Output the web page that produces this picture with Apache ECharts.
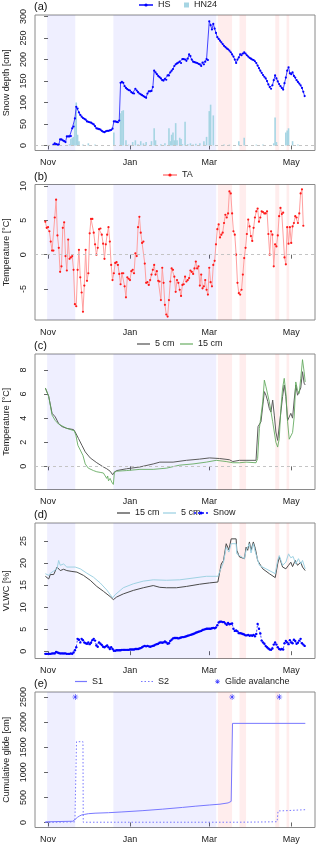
<!DOCTYPE html>
<html>
<head>
<meta charset="utf-8">
<script src="https://cdn.jsdelivr.net/npm/echarts@6/dist/echarts.min.js"></script>
<title></title>
<style>
  body { margin: 0; background: #fff; }
</style>
</head>
<body>
<div id="main" style="width: 320px;height:847px;"></div>
<script type="text/javascript">
// days counted from 1 Nov
var monthTicks = [0, 61, 120, 181];
var monthLabels = ['Nov', 'Jan', 'Mar', 'May'];
var winterBands = [[-0.7, 20.3], [48.6, 125.2]];
var springBands = [[126.4, 137], [142.5, 147.4], [169.1, 172.1], [177.5, 179.5]];

// (a) snow depth, daily from day 4
var hsStartDay = 4;
var hsValues = [2,5,3,2,2,14,14,12,10,8,
  21,21,21,22,40,44,63,90,86,77,
  71,67,64,62,60,56,55,54,53,51,
  49,45,40,39,38,37,34,32,31,33,
  34,34,35,36,39,56,56,55,54,58,
  146,148,146,138,134,131,129,128,124,122,
  121,132,128,124,121,119,117,115,113,111,
  121,126,126,127,136,174,170,166,162,159,
  156,152,151,155,153,163,163,170,174,178,
  185,189,191,193,195,192,201,201,200,197,
  202,212,208,200,195,194,193,192,190,189,
  185,193,189,195,201,199,289,280,270,283,
  272,262,252,248,244,240,236,232,229,226,
  224,221,217,212,207,200,192,200,205,212,
  210,214,217,214,210,207,204,202,200,199,
  196,192,186,180,174,169,164,160,156,150,
  142,136,132,140,152,163,156,149,143,138,
  134,130,145,158,174,182,168,166,170,162,
  158,152,148,144,140,134,125,115];
var hn24 = [[16,3],[17,15],[18,18],[19,20],[20,62],[21,100],[22,25],[23,10],[26,2],[30,5],[35,2],
  [49,30],[54,75],[55,80],[56,82],[58,12],[60,2],[63,8],[65,12],[67,3],[69,10],[71,5],[73,8],
  [77,10],[79,40],[80,12],[84,3],[87,5],[90,40],[91,10],[92,25],[93,30],[94,12],[95,52],[96,12],
  [98,18],[99,15],[100,3],[102,55],[104,3],[106,5],[108,2],[110,4],[113,5],[116,10],[118,20],
  [120,80],[121,95],[123,70],[131,2],[135,2],[142,10],[146,18],[155,2],[160,2],[168,5],[169,65],
  [170,8],[177,30],[178,35],[179,40],[182,10],[186,2]];

// (b) air temperature, daily from day -2
var taStartDay = -2;
var taValues = [4.8,3.9,4.0,3.4,1.9,0.6,0.6,5.4,8.0,2.8,
  1.0,-2.5,-1.7,3.9,4.7,-0.2,-2.3,2.2,-0.6,-0.4,
  -0.2,-2.2,-7.2,-7.5,-2.2,0.7,-3.3,-5.5,-8.3,-4.5,
  0.7,-3.8,-2.7,3.1,5.2,5.2,3.2,1.5,0,1.0,
  3.7,3.8,2.9,1.6,-0.6,1.5,2.9,4.0,1.9,-1.5,
  -3.7,-2.7,-1.2,-1.1,-1.5,-2.8,-4.3,-2.7,-2.7,-4.6,
  -6.2,-3.3,-3.5,-3.7,-2.4,-2.2,-2.7,0.2,-0.2,4.0,
  5.5,3.2,1.7,1.9,-1.3,-4.1,-4.0,-4.4,-3.7,-2.9,
  -2.2,-1.5,-2.9,-2.4,-3.8,-3.9,-6.6,-1.9,-4.1,-7.3,
  -8.7,-9.0,-6.6,-3.9,-2.0,-2.2,-3.2,-5.4,-3.7,-4.1,
  -5.1,-6.0,-4.4,-4.3,-3.2,-3.9,-3.7,-3.4,-2.3,-2.5,
  -2.8,-2.0,-1.0,-2.0,-1.7,-4.5,-2.9,-4.9,-4.6,-3.7,
  -5.1,-5.8,-1.9,-4.0,-4.6,-1.5,-0.9,1.5,3.7,4.4,
  2.5,2.9,3.2,4.6,5.8,5.4,6.0,9.2,8.9,6.0,
  3.4,2.9,0,-4.1,-5.6,-5.8,-5.1,-2.9,-0.5,1.0,
  3.0,5.1,4.1,2.7,2.0,3.9,5.4,6.3,6.7,4.8,
  5.4,6.3,6.2,6.0,6.0,6.3,3.0,0,3.4,2.9,
  -1.7,1.5,1.2,2.8,5.6,6.8,5.9,6.1,-0.4,-1.4,
  4.0,1.6,4.0,1.7,4.1,4.6,5.6,5.4,4.6,6.0,
  8.9,9.5,4.2];

// (c) soil temperature [day, degC]
var soil5 = [[-2,6.5],[0.5,5.8],[1.7,5.7],[3,4.4],[4.2,4.25],[5.4,4.1],[7.9,3.55],[10.4,3.3],[14,3.15],
  [19,3.05],[20.2,2.85],[22.7,2.3],[25.2,1.75],[27.7,1.2],[31.4,0.7],[36.3,0.3],[41.2,-0.05],[43.7,-0.2],
  [46.2,-0.4],[47.4,-0.5],[48.1,-0.7],[49.1,-0.5],[51.1,-0.35],[58.5,-0.2],[68.4,-0.05],[78.3,0.2],
  [83.2,0.35],[93.1,0.35],[103,0.5],[112.8,0.6],[120.2,0.7],[127.7,0.65],[135,0.55],[137.5,0.4],
  [142.5,0.5],[147.4,0.5],[154.8,0.5],[156.3,3.3],[158.5,3.7],[161,6.2],[162.2,5.9],[163.5,5.4],
  [164.7,4.8],[165.9,4.5],[167.2,5.5],[168.4,4.25],[169.6,2.85],[170.9,2.15],[172.1,2.15],[173.3,4.5],
  [174.6,5.8],[175.8,6.75],[177,5.8],[178.3,3.8],[179.5,4.1],[180.7,4.4],[182,4.0],[183.2,5.5],
  [184.4,6.75],[185.7,5.9],[186.9,6.05],[188.1,6.5],[189.4,7.85],[190.6,6.9],[191.4,6.75]];
var soil15 = [[-2,6.5],[0.5,5.8],[3,4.25],[5.4,3.8],[7.9,3.5],[14,3.15],[19.5,2.95],[20.7,2.6],[22.2,1.75],
  [24,1.35],[26,0.9],[27.7,0.2],[30,-0.15],[33.8,-0.35],[35,-0.3],[36.3,-0.45],[37.5,-0.3],[38.8,-0.5],
  [40,-0.35],[41.2,-0.55],[42.5,-0.7],[43.7,-1.0],[44.4,-0.8],[45,-1.2],[45.7,-1.1],[46.2,-1.0],
  [47.4,-1.3],[48.6,-1.5],[49.4,-0.5],[51.1,-0.4],[58.5,-0.35],[68.4,-0.25],[78.3,-0.25],[88.1,-0.15],
  [98,0.1],[107.9,0.2],[117.8,0.35],[125.2,0.5],[132.6,0.4],[137.5,0.3],[142.5,0.3],[147.4,0.35],
  [154.8,0.3],[156,0.65],[157.3,3.15],[159.8,5.35],[161,7.15],[162.2,6.6],[164.7,5.35],[165.9,5.4],
  [167.2,3.7],[169.6,2.0],[170.9,1.6],[172.1,2.3],[173.3,4.8],[174.6,6.5],[175.8,7.3],[177,6.1],
  [178.3,3.7],[179.5,2.25],[180.7,2.15],[182,2.8],[183.2,4.1],[184.4,7.0],[185.7,6.3],[186.9,6.05],
  [188.1,7.3],[189.4,8.85],[190.6,7.85],[191.4,7.0]];

// (d) volumetric liquid water content [day, %]
var vlwc15 = [[-2,17.0],[0.5,16.4],[1.7,17.4],[4.2,17.4],[5.4,17.7],[6.7,19.1],[7.9,18.7],[9.1,18.3],
  [11.6,18.6],[14,18.3],[17.8,18.1],[21.5,17.95],[26.4,17.2],[31.4,16.1],[36.3,14.7],[41.2,13.6],
  [46.2,12.4],[48.6,11.7],[51.1,12.3],[56,13.0],[63.5,13.8],[70.9,14.4],[78.3,14.9],[83.2,14.5],
  [88.1,14.4],[95.6,14.4],[103,14.7],[112.8,15.2],[120.2,15.5],[126.4,15.7],[128.9,19.8],[130.6,20.6],
  [132.6,24.4],[134.6,23.0],[136.3,25.5],[140,25.5],[140.5,22.9],[142.5,21.4],[146.2,21.0],[147.4,23.6],
  [148.6,22.9],[149.9,24.8],[151.1,22.9],[152.8,24.8],[154.3,23.3],[156,20.6],[159.8,18.7],[164.7,17.6],
  [169.1,16.7],[170.9,19.8],[172.1,21.4],[174.6,19.1],[177,18.7],[179,19.5],[180.7,20.2],[182,19.2],
  [184,20.6],[185.7,19.5],[188.1,20.2],[189.4,19.1],[191.4,18.3]];
var vlwc5 = [[-2,17.6],[0.5,17.2],[1.7,17.7],[4.2,18.2],[6.7,18.7],[7.9,20.6],[9.1,19.5],[11.6,19.8],
  [14,19.1],[20.2,19.1],[24,18.7],[28.9,17.7],[33.8,16.8],[38.8,15.5],[43.7,13.9],[48.1,12.1],
  [49.9,12.8],[56,14.4],[63.5,15.3],[70.9,15.9],[78.3,16.2],[88.1,16.1],[98,16.2],[107.9,16.6],
  [117.8,17.0],[126.4,17.0],[128.1,18.3],[130.6,20.2],[132.6,23.6],[134.6,22.5],[136.3,24.4],[140,24.4],
  [140.5,22.1],[146.2,21.0],[147.4,22.9],[149.9,24.4],[151.1,22.3],[152.8,24.4],[154.3,22.5],
  [157.3,19.5],[162.2,18.7],[169.1,17.6],[170.9,20.6],[172.1,21.7],[174.6,19.5],[177,20.2],[179,22.1],
  [180.7,21.2],[182.4,21.5],[184.4,19.8],[186.4,21.0],[188.1,19.8],[189.4,20.6],[191.4,18.7]];
var snowStartDay = -2;
var snowVlwc = [-0.6,-0.6,-0.6,-0.6,-0.6,-0.5,-0.5,-0.5,-0.2,-0.3,
  -0.4,-0.5,-0.5,-0.5,-0.5,-0.5,-0.6,-0.6,-0.6,-0.5,
  -0.6,-0.3,0.2,0.9,2.8,2.6,2.0,2.8,2.5,2.0,
  1.8,1.7,2.0,1.6,1.9,2.5,2.8,2.4,1.3,1.0,
  2.0,1.7,1.4,1.0,0.9,1.1,1.3,0.9,0.5,0.9,
  0.5,0.1,0.1,0.2,0.2,0.2,0.2,0.3,0.3,0.3,
  0.3,0.3,0.3,0.4,0.4,0.4,0.4,0.5,0.5,0.5,
  0.6,0.7,0.9,1.1,1.2,1.1,1.2,1.1,1.0,1.1,
  1.2,1.3,1.5,1.6,1.7,1.9,2.0,1.9,2.0,2.2,
  2.0,1.7,1.8,2.3,2.6,2.9,3.0,3.0,3.0,2.9,
  3.0,3.1,3.2,3.2,3.3,3.4,3.5,3.6,3.7,3.8,
  3.9,4.0,4.2,4.3,4.4,4.5,4.6,4.8,4.9,5.0,
  5.1,5.1,5.1,5.1,5.2,5.3,5.2,5.4,5.9,6.5,
  6.7,6.7,6.6,6.6,6.3,6.0,6.4,6.1,6.2,6.3,
  5.1,4.6,4.7,4.5,4.1,4.1,4.0,3.9,3.8,3.6,
  3.6,3.7,3.5,3.6,3.5,3.7,3.4,3.9,6.2,5.1,
  4.0,2.4,2.0,1.7,1.2,0.9,0.6,0.4,0.3,0.6,
  1.5,2.0,1.5,0.9,0.5,0.4,0.5,0.4,1.8,2.3,
  2.0,1.6,2.5,2.0,1.8,2.6,2.3,1.7,1.9,2.4,
  2.8,1.8,1.5,1.2];

// (e) cumulative glide [day, cm]
var glideS1 = [[-2,13],[18.5,25],[19.5,30],[20.5,70],[22,105],[23.5,130],[25,150],[27,160],[30,175],
  [35,185],[45,195],[55,210],[70,235],[85,265],[100,300],[110,325],[120,348],[128,365],[134,390],
  [136.3,420],[137.3,1975],[191.5,1975]];
var glideS2 = [[-2,0],[20,13],[21,13],[21.2,1610],[26,1610],[26.2,5],[100,5],[140,5],[160,10],
  [170.5,15],[171.2,230],[177,235],[177.5,255],[191.5,255]];
var avalanches = [[20.3,2500],[137,2500],[172.1,2500]];

var yTicksA = [0, 50, 100, 150, 200, 250, 300];
var yTicksB = [-5, 0, 5, 10];
var yTicksC = [0, 2, 4, 6, 8];
var yTicksD = [0, 5, 10, 15, 20, 25];
var yTicksE = [0, 500, 1000, 1500, 2000, 2500];

function daily(start, vals) {
  return vals.map(function (v, i) { return [start + i, v]; });
}

var tops = [15, 184.5, 354, 523, 692];
var H = 135.5;
var yRanges = [[-11.7, 303.7], [-9.5, 10.2], [-1.92, 9.32], [-1.66, 29.1], [-100, 2600]];
var yTicks = [yTicksA, yTicksB, yTicksC, yTicksD, yTicksE];
var yNames = ['Snow depth [cm]', 'Temperature [°C]', 'Temperature [°C]', 'VLWC [%]', 'Cumulative glide [cm]'];
var font = 'Liberation Sans';

function bands(i) {
  var lo = yRanges[i][0], hi = yRanges[i][1], out = [];
  winterBands.forEach(function (b) {
    out.push([{ xAxis: b[0], yAxis: lo, itemStyle: { color: 'rgba(0,0,255,0.062)' } }, { xAxis: b[1], yAxis: hi }]);
  });
  springBands.forEach(function (b) {
    out.push([{ xAxis: b[0], yAxis: lo, itemStyle: { color: 'rgba(255,0,0,0.07)' } }, { xAxis: b[1], yAxis: hi }]);
  });
  return { silent: true, data: out };
}
function zeroLine() {
  return {
    silent: true, symbol: 'none', label: { show: false },
    lineStyle: { color: '#c4c4c4', type: [3, 3], width: 1 },
    data: [{ yAxis: 0 }]
  };
}

var starPath = 'path://M-0.5,-5h1v10h-1z M-5,-0.5h10v1h-10z M-3.9,-3.2L-3.2,-3.9L3.9,3.2L3.2,3.9Z M3.2,-3.9L3.9,-3.2L-3.2,3.9L-3.9,3.2Z';
var solidIcon = 'path://M0,0h12v1.2h-12z';
var dottedIcon = 'path://M0,0h1.5v1.2h-1.5z M3.5,0h1.5v1.2h-1.5z M7,0h1.5v1.2h-1.5z M10.5,0h1.5v1.2h-1.5z';

var grids = [], xAxes = [], yAxes = [], titles = [];
for (var i = 0; i < 5; i++) {
  grids.push({ left: 35, right: 5, top: tops[i], height: H, show: true, outerBoundsMode: 'none', containLabel: false,
    borderColor: '#8a8a8a', borderWidth: 1, backgroundColor: 'transparent' });
  xAxes.push({
    type: 'value', gridIndex: i, min: -9.7, max: 198.7,
    axisLine: { show: false }, splitLine: { show: false },
    axisTick: { show: true, length: 4, customValues: monthTicks, lineStyle: { color: '#666' } },
    axisLabel: {
      customValues: monthTicks, fontSize: 9, color: '#222', margin: 8, fontFamily: font,
      formatter: function (v) { return monthLabels[monthTicks.indexOf(v)]; }
    }
  });
  yAxes.push({
    type: 'value', gridIndex: i, min: yRanges[i][0], max: yRanges[i][1],
    name: yNames[i], nameLocation: 'middle', nameGap: 24,
    nameTextStyle: { fontSize: 9, color: '#222', fontFamily: font },
    axisLine: { show: false }, splitLine: { show: false },
    axisTick: { show: true, length: 4, customValues: yTicks[i], lineStyle: { color: '#666' } },
    axisLabel: { customValues: yTicks[i], rotate: 90, fontSize: 9, color: '#222', margin: 7, fontFamily: font,
      formatter: function (v) { return String(v); } }
  });
  titles.push({ text: '(' + 'abcde'[i] + ')', left: 34, top: tops[i] - 13.5, padding: 0,
    textStyle: { fontSize: 11, fontWeight: 'normal', color: '#111', fontFamily: font } });
}

function leg(name, left, cy, w, h, icon) {
  var item = { name: name };
  if (icon) item.icon = icon;
  return {
    data: [item], left: left, top: cy - 6, padding: 0, itemGap: 0,
    itemWidth: w, itemHeight: h, selectedMode: false,
    formatter: function (n) { return n.split('|')[0]; },
    textStyle: { fontSize: 9, color: '#222', fontFamily: font }
  };
}
var legends = [
  leg('HS', 138, 6.5, 14, 4),
  leg('HN24', 184, 6.5, 5, 5, 'rect'),
  leg('TA', 162, 176.5, 14, 4),
  leg('5 cm|T', 137, 345.5, 13, 4, solidIcon),
  leg('15 cm|T', 180, 345.5, 13, 4, solidIcon),
  leg('15 cm|W', 117, 514.5, 13, 4, solidIcon),
  leg('5 cm|W', 163, 514.5, 13, 4, solidIcon),
  leg('Snow', 193, 514.5, 14, 4),
  leg('S1', 75, 683, 12, 4, solidIcon),
  leg('S2', 141, 683, 12, 4, dottedIcon),
  leg('Glide avalanche', 215, 683, 5, 5)
];

var myChart = echarts.init(document.getElementById('main'), null, { renderer: 'canvas' });

var option = {
  animation: false,
  backgroundColor: '#fff',
  textStyle: { fontFamily: font },
  title: titles,
  legend: legends,
  grid: grids,
  xAxis: xAxes,
  yAxis: yAxes,
  series: [
    {
      name: 'HN24', type: 'bar', xAxisIndex: 0, yAxisIndex: 0, data: hn24,
      barWidth: 1.6, itemStyle: { color: '#a6d5e3' },
      markArea: bands(0), markLine: zeroLine()
    },
    {
      name: 'HS', type: 'line', xAxisIndex: 0, yAxisIndex: 0, data: daily(hsStartDay, hsValues),
      symbol: 'circle', symbolSize: 2.2, itemStyle: { color: '#0000ff' },
      lineStyle: { color: '#4444ff', width: 1 }
    },
    {
      name: 'TA', type: 'line', xAxisIndex: 1, yAxisIndex: 1, data: daily(taStartDay, taValues),
      symbol: 'circle', symbolSize: 2.2, itemStyle: { color: '#ff1a1a' },
      lineStyle: { color: '#ffa0a0', width: 1 },
      markArea: bands(1), markLine: zeroLine()
    },
    {
      name: '5 cm|T', type: 'line', xAxisIndex: 2, yAxisIndex: 2, data: soil5,
      symbol: 'none', lineStyle: { color: '#5c5c5c', width: 1 },
      itemStyle: { color: '#5c5c5c' },
      markArea: bands(2), markLine: zeroLine()
    },
    {
      name: '15 cm|T', type: 'line', xAxisIndex: 2, yAxisIndex: 2, data: soil15,
      symbol: 'none', lineStyle: { color: '#5fa85a', width: 1, opacity: 0.85 },
      itemStyle: { color: '#74b46e' }
    },
    {
      name: '15 cm|W', type: 'line', xAxisIndex: 3, yAxisIndex: 3, data: vlwc15,
      symbol: 'none', lineStyle: { color: '#4a4a4a', width: 1 },
      itemStyle: { color: '#4a4a4a' },
      markArea: bands(3)
    },
    {
      name: '5 cm|W', type: 'line', xAxisIndex: 3, yAxisIndex: 3, data: vlwc5,
      symbol: 'none', lineStyle: { color: '#9fd2e3', width: 1 },
      itemStyle: { color: '#9fd2e3' }
    },
    {
      name: 'Snow', type: 'line', xAxisIndex: 3, yAxisIndex: 3, data: daily(snowStartDay, snowVlwc),
      symbol: 'circle', symbolSize: 2.4, itemStyle: { color: '#0000ff' },
      lineStyle: { color: '#4444ff', width: 1, type: [2, 2] }
    },
    {
      name: 'S1', type: 'line', xAxisIndex: 4, yAxisIndex: 4, data: glideS1,
      symbol: 'none', lineStyle: { color: '#7878ff', width: 1 },
      itemStyle: { color: '#7878ff' },
      markArea: bands(4)
    },
    {
      name: 'S2', type: 'line', xAxisIndex: 4, yAxisIndex: 4, data: glideS2,
      symbol: 'none', lineStyle: { color: '#7878ff', width: 1, type: [1.5, 2] },
      itemStyle: { color: '#7878ff' }
    },
    {
      name: 'Glide avalanche', type: 'scatter', xAxisIndex: 4, yAxisIndex: 4, data: avalanches,
      symbol: starPath, symbolSize: 6, itemStyle: { color: '#1010ff' }
    }
  ]
};

myChart.setOption(option);
</script>
</body>
</html>
